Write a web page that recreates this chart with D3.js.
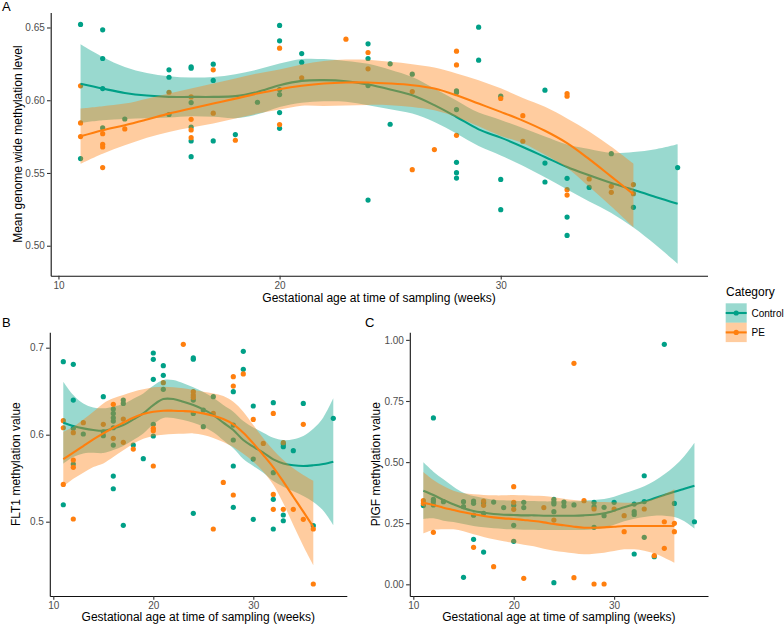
<!DOCTYPE html>
<html><head><meta charset="utf-8">
<script src="https://cdn.jsdelivr.net/npm/d3@7"></script>
<style>
body{margin:0;background:#fff}
svg{display:block}
text{font-family:"Liberation Sans", Arial, Helvetica, sans-serif}
</style>
</head><body>
<svg id="chart" width="784" height="626"></svg>
<script>
// ---------------- DATA ----------------
const categories = ["Control", "PE"];
const weekTicks = [10, 20, 30];
const aYTicks = [0.50, 0.55, 0.60, 0.65];
const bYTicks = [0.5, 0.6, 0.7];
const cYTicks = [0.00, 0.25, 0.50, 0.75, 1.00];

// Panel A: mean genome wide methylation [week, value]
const aControl = [[11,0.6521],[11,0.5599],[12,0.6484],[12,0.6287],[12,0.608],[12,0.581],[13,0.5871],[15,0.6209],[15,0.6158],[15,0.5902],[16,0.623],[16,0.622],[16,0.5984],[16,0.5816],[16,0.572],[16,0.5612],[17,0.6248],[17,0.6136],[17,0.572],[18,0.5764],[19,0.5986],[20,0.6514],[20,0.6408],[20,0.6073],[20,0.6039],[20,0.5915],[20,0.5807],[21,0.6321],[21,0.6261],[24,0.6388],[24,0.6287],[24,0.6101],[24,0.5314],[25,0.625],[25,0.5835],[26,0.6179],[28,0.6064],[28,0.6053],[28,0.5936],[28,0.5573],[28,0.5502],[28,0.5465],[29,0.6502],[29,0.6275],[30,0.6028],[30,0.5456],[30,0.5248],[32,0.6069],[32,0.5568],[32,0.5438],[33,0.5463],[33,0.5197],[33,0.5071],[34,0.5401],[35,0.5633],[36,0.5264],[38,0.5537]];
const aPE = [[11,0.6099],[11,0.5844],[11,0.575],[12,0.577],[12,0.5697],[12,0.5679],[12,0.5537],[13,0.5803],[15,0.6055],[16,0.6023],[16,0.5869],[16,0.5796],[16,0.5743],[17,0.6209],[17,0.5911],[18,0.5725],[20,0.6358],[20,0.5833],[21,0.6154],[23,0.642],[24,0.6328],[24,0.6216],[26,0.606],[26,0.5523],[27,0.5661],[28,0.6337],[28,0.6243],[28,0.5759],[30,0.6012],[31,0.5894],[31,0.5718],[33,0.6046],[33,0.6028],[33,0.5385],[33,0.5348],[34,0.5459],[35,0.5408],[35,0.5367],[36,0.542],[36,0.5358]];
// smooth fits [week, fit, lower, upper]
const aControlFit = [[11,0.6113,0.5844,0.6385],[12,0.6080,0.5862,0.6298],[13,0.6050,0.5871,0.6229],[14,0.6032,0.5876,0.6188],[15,0.6023,0.5881,0.6165],[16,0.6023,0.5890,0.6156],[17,0.6023,0.5886,0.6160],[18,0.6028,0.5877,0.6179],[19,0.6057,0.5903,0.6211],[20,0.6103,0.5954,0.6252],[21,0.6133,0.5983,0.6283],[22,0.6138,0.5993,0.6283],[23,0.6131,0.5990,0.6270],[24,0.6108,0.5966,0.6250],[25,0.6074,0.5938,0.6210],[26,0.6034,0.5908,0.6160],[27,0.5966,0.5851,0.6081],[28,0.5885,0.5771,0.5999],[29,0.5800,0.5685,0.5915],[30,0.5743,0.5621,0.5865],[31,0.5679,0.5549,0.5809],[32,0.5610,0.5470,0.5750],[33,0.5541,0.5386,0.5696],[34,0.5484,0.5304,0.5664],[35,0.5431,0.5225,0.5637],[36,0.5385,0.5126,0.5644],[37,0.5335,0.5007,0.5663],[38,0.5289,0.4876,0.5697]];
const aPEFit = [[11,0.5752,0.5564,0.5943],[12,0.5794,0.5633,0.5959],[13,0.5828,0.5690,0.5977],[14,0.5867,0.5743,0.6011],[15,0.5908,0.5782,0.6046],[16,0.5943,0.5812,0.6080],[17,0.5977,0.5840,0.6115],[18,0.6011,0.5874,0.6150],[19,0.6046,0.5908,0.6184],[20,0.6076,0.5936,0.6211],[21,0.6099,0.5962,0.6245],[22,0.6115,0.5961,0.6270],[23,0.6122,0.5963,0.6280],[24,0.6122,0.5968,0.6278],[25,0.6115,0.5966,0.6264],[26,0.6103,0.5954,0.6248],[27,0.6080,0.5931,0.6225],[28,0.6034,0.5885,0.6184],[29,0.5977,0.5821,0.6138],[30,0.5920,0.5755,0.6082],[31,0.5860,0.5705,0.6015],[32,0.5790,0.5625,0.5955],[33,0.5705,0.5535,0.5875],[34,0.5595,0.5405,0.5785],[35,0.5475,0.5270,0.5680],[36,0.5355,0.5128,0.5564]];

// Panel B: FLT1 methylation
const bControl = [[11,0.6839],[11,0.5195],[12,0.6809],[12,0.6398],[12,0.6073],[12,0.5663],[13,0.6008],[15,0.6437],[15,0.6034],[15,0.5989],[16,0.6295],[16,0.6245],[16,0.6195],[16,0.6157],[16,0.608],[16,0.5881],[16,0.5525],[16,0.5379],[17,0.6398],[17,0.636],[17,0.4958],[18,0.5881],[19,0.5724],[20,0.6939],[20,0.6866],[20,0.6637],[20,0.6119],[20,0.5985],[21,0.6793],[21,0.6683],[21,0.6521],[24,0.6882],[24,0.6867],[24,0.6398],[24,0.6245],[24,0.5096],[25,0.6284],[25,0.6092],[26,0.6437],[28,0.6494],[28,0.6111],[28,0.5939],[28,0.564],[28,0.5165],[29,0.6958],[29,0.6751],[30,0.633],[30,0.572],[30,0.5027],[32,0.6368],[32,0.5563],[32,0.5257],[32,0.4916],[33,0.5893],[33,0.5862],[33,0.5077],[33,0.5011],[34,0.5816],[35,0.636],[36,0.4954],[38,0.6188]];
const bPE = [[11,0.6161],[11,0.608],[11,0.5429],[12,0.6023],[12,0.5709],[12,0.5625],[12,0.5031],[13,0.6138],[15,0.6119],[16,0.6349],[16,0.5958],[17,0.618],[17,0.5912],[18,0.5835],[20,0.6073],[20,0.6046],[20,0.564],[21,0.6598],[23,0.7039],[24,0.6494],[24,0.6456],[24,0.6429],[26,0.6245],[26,0.4916],[27,0.5452],[28,0.6667],[28,0.6559],[28,0.5307],[29,0.6698],[30,0.6176],[31,0.59],[32,0.6245],[32,0.5314],[32,0.5142],[33,0.5908],[33,0.5142],[34,0.5142],[35,0.6119],[35,0.5027],[36,0.4916],[36,0.4284]];
const bControlFit = [[11,0.6138,0.5667,0.6609],[12,0.6100,0.5743,0.6456],[13,0.6073,0.5785,0.6360],[14,0.6054,0.5793,0.6314],[15,0.6046,0.5789,0.6303],[16,0.6073,0.5824,0.6322],[17,0.6111,0.5870,0.6352],[18,0.6176,0.5938,0.6414],[19,0.6245,0.6015,0.6475],[20,0.6341,0.6119,0.6563],[21,0.6410,0.6192,0.6628],[22,0.6410,0.6192,0.6628],[23,0.6379,0.6168,0.6590],[24,0.6341,0.6138,0.6544],[25,0.6291,0.6092,0.6490],[26,0.6226,0.6027,0.6425],[27,0.6138,0.5935,0.6341],[28,0.6054,0.5843,0.6265],[29,0.5939,0.5721,0.6157],[30,0.5862,0.5640,0.6084],[31,0.5793,0.5563,0.6023],[32,0.5716,0.5467,0.5965],[33,0.5670,0.5402,0.5938],[34,0.5648,0.5349,0.5947],[35,0.5640,0.5295,0.5985],[36,0.5648,0.5227,0.6069],[37,0.5663,0.5127,0.6199],[38,0.5690,0.4962,0.6418]];
const bPEFit = [[11,0.5720,0.5406,0.6034],[12,0.5793,0.5494,0.6092],[13,0.5870,0.5563,0.6176],[14,0.5946,0.5628,0.6264],[15,0.6015,0.5670,0.6360],[16,0.6080,0.5743,0.6418],[17,0.6138,0.5820,0.6456],[18,0.6195,0.5897,0.6494],[19,0.6238,0.5954,0.6521],[20,0.6264,0.5985,0.6544],[21,0.6276,0.6000,0.6552],[22,0.6276,0.6008,0.6544],[23,0.6272,0.6011,0.6533],[24,0.6264,0.6015,0.6513],[25,0.6245,0.5996,0.6494],[26,0.6218,0.5962,0.6475],[27,0.6180,0.5916,0.6444],[28,0.6119,0.5858,0.6379],[29,0.6023,0.5782,0.6264],[30,0.5900,0.5690,0.6111],[31,0.5766,0.5575,0.5958],[32,0.5625,0.5425,0.5824],[33,0.5460,0.5211,0.5709],[34,0.5287,0.4962,0.5613],[35,0.5115,0.4720,0.5536],[36,0.4940,0.4500,0.5470]];

// Panel C: PlGF methylation
const cControl = [[11,0.322],[12,0.6806],[12,0.3474],[12,0.338],[12,0.3244],[13,0.338],[15,0.338],[15,0.3177],[15,0.0287],[16,0.3408],[16,0.3313],[16,0.283],[16,0.1841],[17,0.334],[17,0.2905],[17,0.1321],[18,0.3366],[19,0.3135],[20,0.3231],[20,0.2413],[20,0.1758],[21,0.3355],[21,0.3136],[24,0.3477],[24,0.3368],[24,0.329],[24,0.297],[24,0.0067],[25,0.3368],[25,0.3204],[26,0.3246],[28,0.3353],[28,0.3178],[28,0.2331],[29,0.315],[29,0.2809],[30,0.3353],[32,0.3284],[32,0.297],[32,0.2861],[32,0.1241],[33,0.4441],[33,0.3383],[33,0.1921],[34,0.1131],[35,0.982],[36,0.3311],[38,0.256]];
const cPE = [[11,0.342],[11,0.331],[12,0.2126],[16,0.1513],[17,0.3408],[17,0.3231],[18,0.0722],[20,0.3996],[20,0.3355],[20,0.3068],[21,0.0244],[23,0.3136],[24,0.263],[26,0.904],[26,0.0272],[27,0.342],[28,0.3082],[28,0.0012],[29,0.0012],[30,0.3082],[31,0.2809],[31,0.2154],[33,0.3082],[34,0.1172],[35,0.256],[35,0.1472],[36,0.2495],[36,0.2154]];
const cControlFit = [[11,0.3831,0.2672,0.4990],[12,0.3654,0.2699,0.4609],[13,0.3449,0.2603,0.4295],[14,0.3272,0.2549,0.3995],[15,0.3108,0.2467,0.3749],[16,0.2999,0.2385,0.3613],[17,0.2931,0.2331,0.3531],[18,0.2876,0.2290,0.3462],[19,0.2849,0.2263,0.3435],[20,0.2836,0.2250,0.3422],[21,0.2822,0.2236,0.3408],[22,0.2822,0.2236,0.3408],[23,0.2808,0.2222,0.3394],[24,0.2808,0.2222,0.3394],[25,0.2808,0.2222,0.3394],[26,0.2808,0.2222,0.3394],[27,0.2822,0.2222,0.3422],[28,0.2849,0.2249,0.3449],[29,0.2904,0.2318,0.3490],[30,0.3013,0.2440,0.3586],[31,0.3149,0.2576,0.3722],[32,0.3272,0.2686,0.3858],[33,0.3381,0.2754,0.4008],[34,0.3517,0.2808,0.4226],[35,0.3654,0.2808,0.4500],[36,0.3790,0.2753,0.4827],[37,0.3913,0.2576,0.5250],[38,0.4036,0.2277,0.5795]];
const cPEFit = [[11,0.3340,0.2085,0.4595],[12,0.3245,0.2222,0.4268],[13,0.3136,0.2249,0.4023],[14,0.3040,0.2249,0.3831],[15,0.2945,0.2168,0.3722],[16,0.2863,0.2045,0.3681],[17,0.2795,0.1936,0.3654],[18,0.2740,0.1840,0.3640],[19,0.2699,0.1758,0.3640],[20,0.2672,0.1690,0.3654],[21,0.2631,0.1622,0.3640],[22,0.2590,0.1553,0.3627],[23,0.2535,0.1458,0.3612],[24,0.2467,0.1376,0.3558],[25,0.2413,0.1322,0.3504],[26,0.2358,0.1267,0.3449],[27,0.2317,0.1226,0.3408],[28,0.2317,0.1253,0.3381],[29,0.2331,0.1294,0.3368],[30,0.2358,0.1362,0.3354],[31,0.2385,0.1430,0.3340],[32,0.2385,0.1430,0.3340],[33,0.2385,0.1376,0.3394],[34,0.2385,0.1267,0.3503],[35,0.2385,0.1089,0.3681],[36,0.2385,0.0885,0.3885]];

// ---------------- STYLE ----------------
const colors = { Control: "#00A087", PE: "#FF7F0E" };
const ribbonOpacity = 0.4;
const svg = d3.select("#chart");

function drawPanel(cfg) {
  const g = svg.append("g");
  const x = d3.scaleLinear().domain(cfg.xDomain).range(cfg.xRange);
  const y = d3.scaleLinear().domain(cfg.yDomain).range(cfg.yRange);

  categories.forEach(c => {
    g.append("g").selectAll("circle").data(cfg.points[c]).join("circle")
      .attr("cx", d => x(d[0])).attr("cy", d => y(d[1]))
      .attr("r", 2.6).attr("fill", colors[c]);
  });

  const curve = d3.curveCatmullRom.alpha(0.5);
  categories.forEach(c => {
    const fit = cfg.fits[c];
    g.append("path").datum(fit)
      .attr("d", d3.area().x(d => x(d[0])).y0(d => y(d[2])).y1(d => y(d[3])).curve(curve))
      .attr("fill", colors[c]).attr("fill-opacity", ribbonOpacity);
    g.append("path").datum(fit)
      .attr("d", d3.line().x(d => x(d[0])).y(d => y(d[1])).curve(curve))
      .attr("fill", "none").attr("stroke", colors[c]).attr("stroke-width", 2.1);
  });

  const xAxis = g.append("g").attr("transform", `translate(0,${cfg.yRange[0]})`)
    .call(d3.axisBottom(x).tickValues(weekTicks).tickSize(3.7).tickSizeOuter(0).tickPadding(2.6));
  const yAxis = g.append("g").attr("transform", `translate(${cfg.xRange[0]},0)`)
    .call(d3.axisLeft(y).tickValues(cfg.yTicks).tickFormat(d3.format(cfg.yFmt)).tickSize(3.7).tickSizeOuter(0).tickPadding(2.2));
  [xAxis, yAxis].forEach(ax => {
    ax.attr("font-family", null).attr("font-size", null);
    ax.select(".domain").attr("stroke", "#111").attr("stroke-width", 1.1);
    ax.selectAll(".tick line").attr("stroke", "#333").attr("stroke-width", 1.1);
    ax.selectAll(".tick text").attr("fill", "#4d4d4d").style("font-size", "10px");
  });

  g.append("text").attr("x", (cfg.xRange[0] + cfg.xRange[1]) / 2).attr("y", cfg.xTitleY)
    .attr("text-anchor", "middle").style("font-size", "12px").attr("fill", "#000").text(cfg.xTitle);
  g.append("text").attr("transform", `translate(${cfg.yTitleX},${(cfg.yRange[0] + cfg.yRange[1]) / 2}) rotate(-90)`)
    .attr("text-anchor", "middle").style("font-size", "12px").attr("fill", "#000").text(cfg.yTitle);
  g.append("text").attr("x", cfg.label[1]).attr("y", cfg.label[2])
    .style("font-size", "13px").attr("fill", "#000").text(cfg.label[0]);
}

const xTitle = "Gestational age at time of sampling (weeks)";

drawPanel({
  xDomain: [9.65, 39.35], xRange: [50.7, 707.5],
  yDomain: [0.4794, 0.6603], yRange: [275.7, 12.5],
  points: { Control: aControl, PE: aPE }, fits: { Control: aControlFit, PE: aPEFit },
  yTicks: aYTicks, yFmt: ".2f", xTitle: xTitle, xTitleY: 301.5,
  yTitle: "Mean genome wide methylation level", yTitleX: 21.5, label: ["A", 2, 11]
});
drawPanel({
  xDomain: [9.65, 39.35], xRange: [49.8, 346.8],
  yDomain: [0.4146, 0.7177], yRange: [596, 332.3],
  points: { Control: bControl, PE: bPE }, fits: { Control: bControlFit, PE: bPEFit },
  yTicks: bYTicks, yFmt: ".1f", xTitle: xTitle, xTitleY: 621,
  yTitle: "FLT1 methylation value", yTitleX: 19.5, label: ["B", 2, 327]
});
drawPanel({
  xDomain: [9.65, 39.35], xRange: [409.8, 708],
  yDomain: [-0.0478, 1.031], yRange: [596, 332.3],
  points: { Control: cControl, PE: cPE }, fits: { Control: cControlFit, PE: cPEFit },
  yTicks: cYTicks, yFmt: ".2f", xTitle: xTitle, xTitleY: 621,
  yTitle: "PlGF methylation value", yTitleX: 379.5, label: ["C", 365, 327]
});

// ---------------- LEGEND ----------------
const lg = svg.append("g");
lg.append("text").attr("x", 726).attr("y", 296).style("font-size", "12px").attr("fill", "#000").text("Category");
categories.forEach((c, i) => {
  const ky = 303.3 + i * 19.4;
  lg.append("rect").attr("x", 725.7).attr("y", ky).attr("width", 21).attr("height", 19.4)
    .attr("fill", colors[c]).attr("fill-opacity", ribbonOpacity);
  lg.append("line").attr("x1", 725.7).attr("x2", 746.7).attr("y1", ky + 9.7).attr("y2", ky + 9.7)
    .attr("stroke", colors[c]).attr("stroke-width", 2.1);
  lg.append("circle").attr("cx", 736.2).attr("cy", ky + 9.7).attr("r", 2.6).attr("fill", colors[c]);
  lg.append("text").attr("x", 751.5).attr("y", ky + 13.3).style("font-size", "10px").attr("fill", "#000").text(c);
});
</script>
</body></html>
